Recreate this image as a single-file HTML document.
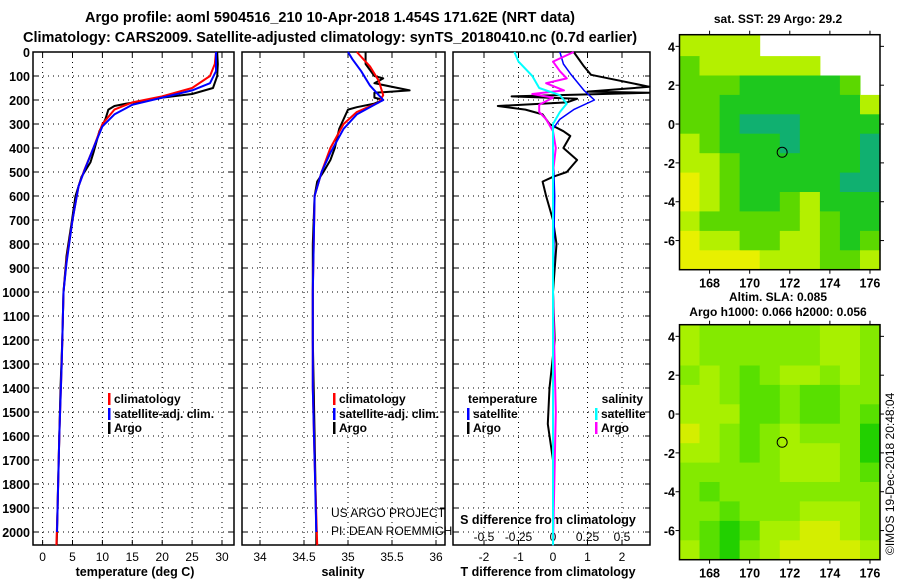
<!DOCTYPE html>
<html><head><meta charset="utf-8"><style>
body{margin:0;background:#fff;}
svg{display:block;font-family:"Liberation Sans",sans-serif;}
.b{font-weight:bold;}
</style></head><body>
<svg id="s" width="900" height="580" xmlns="http://www.w3.org/2000/svg">
<text x="330" y="22" text-anchor="middle" class="b" font-size="14.5">Argo profile: aoml 5904516_210 10-Apr-2018 1.454S 171.62E (NRT data)</text>
<text x="330" y="42" text-anchor="middle" class="b" font-size="14.5">Climatology: CARS2009. Satellite-adjusted climatology: synTS_20180410.nc (0.7d earlier)</text>
<text x="778" y="23" text-anchor="middle" class="b" font-size="12">sat. SST: 29 Argo: 29.2</text>
<text x="778" y="301" text-anchor="middle" class="b" font-size="12">Altim. SLA: 0.085</text>
<text x="778" y="316" text-anchor="middle" class="b" font-size="12">Argo h1000: 0.066 h2000: 0.056</text>
<text transform="translate(894,555) rotate(-90)" font-size="12">©IMOS 19-Dec-2018 20:48:04</text>
<g id="g"></g>
</svg>
<script>
// depth axis
const depthTicks=[0,100,200,300,400,500,600,700,800,900,1000,1100,1200,1300,1400,1500,1600,1700,1800,1900,2000];
const tempTicks=[0,5,10,15,20,25,30];
const salTicks=[34,34.5,35,35.5,36];
const salTickLabels=["34","34.5","35","35.5","36"];
const tdiffTicks=[-2,-1,0,1,2];
const sdiffTicks=[-0.5,-0.25,0,0.25,0.5];
const sdiffTickLabels=["-0.5","-0.25","0","0.25","0.5"];
// temperature profiles [value, depth]
const tempArgo=[[29.2,0],[29.3,50],[29.2,100],[28.5,150],[25,175],[20,190],[18,200],[14,215],[12,225],[11,240],[10.5,280],[9.5,330],[8.5,420],[8,460],[6.5,520],[5.5,600],[4.8,720],[4,850],[3.5,1000],[3.3,1200],[3.0,1400],[2.8,1600],[2.6,1800],[2.4,2000],[2.35,2055]];
const tempClim=[[29,0],[28.8,50],[28,100],[25,150],[20,185],[15,210],[12,240],[10,300],[8.5,400],[7,490],[6,560],[5,700],[4,870],[3.5,1000],[3.2,1300],[2.8,1600],[2.5,1900],[2.3,2055]];
const tempSat=[[29,0],[29,80],[28,130],[25,160],[20,190],[15,220],[12,260],[10,310],[8.5,400],[7.2,480],[6,560],[5,700],[4,880],[3.5,1000],[3.2,1300],[2.8,1600],[2.5,1900],[2.4,2000]];
// salinity profiles
const salArgo=[[35.2,0],[35.2,50],[35.3,100],[35.4,110],[35.3,130],[35.7,160],[35.3,170],[35.3,190],[35.4,200],[35.3,215],[35.1,230],[35,240],[34.95,280],[34.9,320],[34.85,400],[34.8,450],[34.72,500],[34.65,540],[34.62,600],[34.6,800],[34.6,1200],[34.62,1600],[34.64,2000],[34.64,2055]];
const salClim=[[35.1,0],[35.25,60],[35.35,120],[35.4,180],[35.35,210],[35.1,250],[34.95,300],[34.8,400],[34.7,500],[34.62,600],[34.6,1000],[34.6,1400],[34.62,1700],[34.65,2055]];
const salSat=[[35.0,0],[35.05,30],[35.15,80],[35.25,140],[35.35,180],[35.4,200],[35.3,220],[35.1,260],[34.95,320],[34.8,420],[34.7,500],[34.62,600],[34.6,1000],[34.6,1400],[34.62,1700],[34.64,2000]];
// differences
const tdiffArgo=[[0.6,0],[0.9,60],[1.1,95],[2.8,145],[1.0,165],[2.8,170],[-1.2,185],[0.7,195],[0.4,210],[-1.6,225],[-0.8,240],[-0.3,260],[-0.1,300],[0.3,330],[0.5,350],[0.3,400],[0.7,450],[0.4,500],[0,520],[-0.3,540],[-0.2,600],[0,700],[0.1,800],[0,1000],[0.05,1200],[-0.1,1400],[-0.15,1550],[0,1700],[0,2055]];
const tdiffSat=[[0.2,0],[0.3,50],[0.5,90],[0.9,160],[1.2,200],[0.6,240],[0.2,280],[0,320],[0,400],[0.05,600],[0,1000],[0,2055]];
const sdiffSat=[[-0.28,0],[-0.25,40],[-0.15,100],[-0.1,150],[0.05,180],[0.1,215],[0.05,250],[0,300],[0,500],[0,1000],[0,2055]];
const sdiffArgo=[[0.15,0],[0,40],[0.05,80],[0.1,110],[-0.05,130],[0.08,160],[-0.15,175],[0,190],[-0.1,220],[-0.1,250],[-0.05,280],[0,330],[0.02,400],[0,500],[0,700],[0,1000],[0.02,1500],[0,2055]];
// maps: coarse 1-degree grids, lon 166.5..176.5, lat 4.5..-7.5 (rows top->bottom), -1 = no data
const sstGrid=[[1,1,1,1,-1,-1,-1,-1,-1,-1],[2,1,1,1,1,1,1,-1,-1,-1],[2,2,2,3,3,3,3,3,2,-1],[2,2,3,3,3,3,3,3,3,1],[2,2,3,4,4,4,3,3,3,3],[1,2,3,3,3,4,3,3,3,4],[1,1,2,3,3,3,3,3,3,4],[0,1,2,3,3,3,3,3,4,4],[0,1,2,3,3,2,1,3,3,3],[1,2,2,2,2,2,1,2,3,3],[0,1,1,2,2,1,1,2,3,2],[0,0,0,0,1,1,1,2,2,1]];
const slaGrid=[[1,2,2,2,2,2,2,1,1,2],[1,2,2,2,2,2,2,1,1,2],[2,1,2,3,2,1,1,2,1,2],[1,1,2,3,3,2,3,3,2,2],[1,1,1,3,3,2,3,3,2,3],[0,1,2,3,2,1,2,2,2,4],[1,1,2,3,2,1,1,1,2,4],[2,2,2,2,2,1,1,1,2,3],[2,3,2,2,2,2,2,2,2,2],[2,2,3,2,2,2,1,1,1,2],[2,3,4,3,1,1,0,0,1,2],[1,3,4,2,1,0,0,0,0,1]];
const lonTicks=[168,170,172,174,176];
const latTicks=[4,2,0,-2,-4,-6];

const NS="http://www.w3.org/2000/svg";
const G=document.getElementById('g');
function el(t,a,p){const e=document.createElementNS(NS,t);for(const k in a)e.setAttribute(k,a[k]);(p||G).appendChild(e);return e;}
function txt(x,y,s,sz,anc,bold){const e=el('text',{x:x,y:y,'font-size':sz,'text-anchor':anc||'start'});if(bold)e.setAttribute('font-weight','bold');e.textContent=s;return e;}
const Y0=52,Y1=545;
const yD=d=>Y0+d*0.24;
const xT=v=>42.6+v*5.98;
const xS=v=>260+(v-34)*88;
const xTd=v=>553+v*34.5;
const xSd=v=>553+v*138;
const panels=[[33,234,'temperature-panel'],[242,445,'salinity-panel'],[453,650,'difference-panel']];
function panel(x0,x1,name,xs,vt){
  const g=el('g',{});
  
  
  vt.forEach(v=>{const x=xs(v);if(x>x0+2&&x<x1-2){const l=el('line',{x1:x,x2:x,y1:Y0,y2:Y1,stroke:'#000','stroke-dasharray':'1,4','stroke-width':1},g);}});
  depthTicks.forEach(d=>{if(d>0){const l=el('line',{x1:x0,x2:x1,y1:yD(d),y2:yD(d),stroke:'#000','stroke-dasharray':'1,4','stroke-width':1},g);}
    el('line',{x1:x0,x2:x0+5,y1:yD(d),y2:yD(d),stroke:'#000'},g);el('line',{x1:x1-5,x2:x1,y1:yD(d),y2:yD(d),stroke:'#000'},g);});
  vt.forEach(v=>{const x=xs(v);el('line',{x1:x,x2:x,y1:Y1,y2:Y1-5,stroke:'#000'},g);el('line',{x1:x,x2:x,y1:Y0,y2:Y0+5,stroke:'#000'},g);});
  const r=el('rect',{x:x0,y:Y0,width:x1-x0,height:Y1-Y0,fill:'none',stroke:'#000','stroke-width':1.5},g);
  
  return g;
}
panels.forEach((p,i)=>{panel(p[0],p[1],p[2],[xT,xS,xTd][i],[tempTicks,salTicks,tdiffTicks][i]);});
depthTicks.forEach(d=>{const t=txt(30,yD(d)+5,String(d),12.5,'end',true);});
tempTicks.forEach(v=>{const t=txt(xT(v),561,String(v),12,'middle',false);});
salTicks.forEach((v,i)=>{const t=txt(xS(v),561,salTickLabels[i],12,'middle',false);});
tdiffTicks.forEach(v=>{const t=txt(xTd(v),561,String(v),12,'middle',false);});
sdiffTicks.forEach((v,i)=>{const t=txt(xSd(v),541,sdiffTickLabels[i],12,'middle',false);});
let t;
t=txt(135,576,'temperature (deg C)',12.5,'middle',true);
t=txt(343,576,'salinity',12.5,'middle',true);
t=txt(548,576,'T difference from climatology',12.5,'middle',true);
t=txt(548,524,'S difference from climatology',12.5,'middle',true);
t=txt(331,517,'US ARGO PROJECT',12,'start',false);
t=txt(331,535,'PI: DEAN ROEMMICH',12,'start',false);
function line(data,xs,col,w,name){
  const d=data.map((p,i)=>(i?'L':'M')+xs(p[0]).toFixed(1)+','+yD(p[1]).toFixed(1)).join('');
  const e=el('path',{d:d,fill:'none',stroke:col,'stroke-width':w,'stroke-linejoin':'round'});
  
  
}
line(tempArgo,xT,'#000',2,'temperature-argo-line');
line(tempClim,xT,'#f00',2,'temperature-climatology-line');
line(tempSat,xT,'#00f',2,'temperature-satellite-line');
line(salArgo,xS,'#000',2,'salinity-argo-line');
line(salClim,xS,'#f00',2,'salinity-climatology-line');
line(salSat,xS,'#00f',2,'salinity-satellite-line');
line(tdiffArgo,xTd,'#000',2,'tdiff-argo-line');
line(tdiffSat,xTd,'#00f',1.5,'tdiff-satellite-line');
line(sdiffArgo,xSd,'#f0f',2,'sdiff-argo-line');
line(sdiffSat,xSd,'#0ff',2,'sdiff-satellite-line');
function leg(x,y,col,s,name){
  const r=el('rect',{x:x,y:y-10,width:2.5,height:12,fill:col});
  
  const tt=txt(x+6,y,s,12,'start',true);
}
leg(108,403,'#f00','climatology','legend-temp-climatology');
leg(108,418,'#00f','satellite-adj. clim.','legend-temp-satellite');
leg(108,432,'#000','Argo','legend-temp-argo');
leg(333,403,'#f00','climatology','legend-sal-climatology');
leg(333,418,'#00f','satellite-adj. clim.','legend-sal-satellite');
leg(333,432,'#000','Argo','legend-sal-argo');
t=txt(468,403,'temperature',12,'start',true);
t=txt(643,403,'salinity',12,'end',true);
leg(467,418,'#00f','satellite','legend-tdiff-satellite');
leg(467,432,'#000','Argo','legend-tdiff-argo');
leg(595,418,'#0ff','satellite','legend-sdiff-satellite');
leg(595,432,'#f0f','Argo','legend-sdiff-argo');
// maps
const sstCols=['#e8f000','#b4f000','#5cd800','#1ec81e','#10b070'];
const slaCols=['#d4ee00','#a8f000','#84ea00','#58e000','#22d000'];
function map(top,grid,cols,name,right){
  const L=679.5,R=880,B=top+235,lonS=(R-L)/10,latS=(B-top)/12.1;
  const g=el('g',{});
  const lx=v=>L+(v-166.5)*lonS, ly=v=>top+(4.6-v)*latS;
  grid.forEach((row,r)=>row.forEach((v,c)=>{if(v<0)return;
    const e=el('rect',{x:lx(166.5+c).toFixed(1),y:ly(4.6-(r===0?0:r+0.1)).toFixed(1),width:(lonS+0.5).toFixed(1),height:((r===0?1.1:1)*latS+0.5).toFixed(1),fill:cols[v]},g);
    }));
  const c=el('circle',{cx:lx(171.62),cy:ly(-1.454),r:5,fill:'none',stroke:'#000','stroke-width':1},g);
  
  el('rect',{x:L,y:top,width:R-L,height:B-top,fill:'none',stroke:'#000','stroke-width':1.5},g);
  lonTicks.forEach(v=>{el('line',{x1:lx(v),x2:lx(v),y1:top,y2:top-4,stroke:'#000'},g);el('line',{x1:lx(v),x2:lx(v),y1:B,y2:B+4,stroke:'#000'},g);
    const tt=txt(lx(v),B+18,String(v),12.5,'middle',true);});
  latTicks.forEach(v=>{el('line',{x1:L,x2:L-4,y1:ly(v),y2:ly(v),stroke:'#000'},g);el('line',{x1:R,x2:R+4,y1:ly(v),y2:ly(v),stroke:'#000'},g);
    const tt=txt(675,ly(v)+5,String(v),12.5,'end',true);});
}
map(34.7,sstGrid,sstCols,'sst-map');
map(324.7,slaGrid,slaCols,'sla-map');
</script>
</body></html>
